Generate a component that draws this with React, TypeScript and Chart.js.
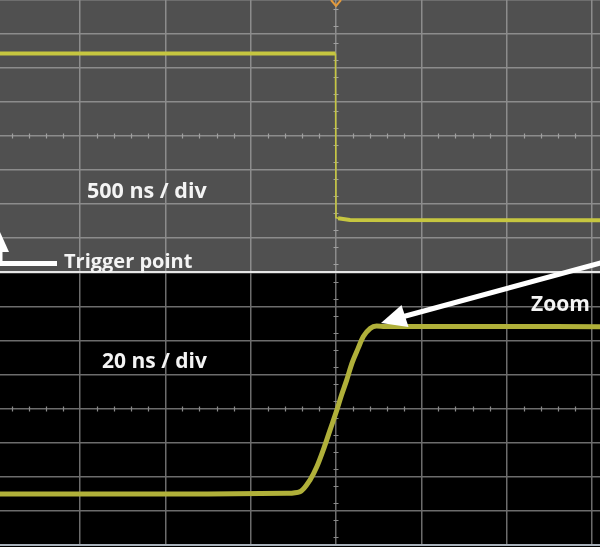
import React, { useEffect, useRef } from 'react';
import { Chart, registerables } from 'chart.js';

Chart.register(...registerables);

// ---------- data ----------
// Top trace: 500 ns / div, values in vertical divisions
const topTimeNs = [-1969, -3, 0, 12, 82, 1547];
const topLevelDiv = [2.43, 2.43, -2.4, -2.42, -2.47, -2.48];

// Zoomed trace: 20 ns / div
const zoomTimeNs = [-78.75, -30, -11.5, -8.4, -6.1, -4.5, -3.0, -1.4, 0.2, 1.3, 2.5, 3.75, 5.2, 6.4, 8.0, 9.5, 11.5, 30, 61.9];
const zoomLevelDiv = [-2.5, -2.5, -2.48, -2.43, -2.09, -1.7, -1.21, -0.62, -0.03, 0.41, 0.85, 1.35, 1.79, 2.13, 2.37, 2.44, 2.43, 2.43, 2.42];

const topRangeNs = [-1968.75, 1546.875];
const topTicksNs = [-1500, -1000, -500, 0, 500, 1000, 1500];
const topStepNs = 500;
const zoomRangeNs = [-78.75, 61.875];
const zoomTicksNs = [-60, -40, -20, 0, 20, 40, 60];
const zoomStepNs = 20;
const yRangeDiv = [-4, 4];
const yTicksDiv = [-4, -3, -2, -1, 0, 1, 2, 3, 4];

const topLabel = '500 ns / div';
const zoomLabel = '20 ns / div';
const triggerLabel = 'Trigger point';
const zoomArrowLabel = 'Zoom';

const FONT = '"Open Sans", "DejaVu Sans", sans-serif';

const scopeDecor = {
  id: 'scopeDecor',
  beforeDraw(chart: any, _a: any, opts: any) {
    const { ctx, width, height } = chart;
    ctx.save();
    ctx.fillStyle = opts.bg;
    ctx.fillRect(0, 0, width, height);
    ctx.restore();
  },
  beforeDatasetsDraw(chart: any, _a: any, opts: any) {
    const { ctx } = chart;
    const xs = chart.scales.x;
    const ys = chart.scales.y;
    const step = opts.step;
    const cx = Math.round(xs.getPixelForValue(0));
    const cy = Math.round(ys.getPixelForValue(0));
    ctx.save();
    ctx.strokeStyle = opts.tickColor;
    ctx.lineWidth = 1.2;
    ctx.beginPath();
    // minor ticks along the horizontal centre line
    const sub = step / 5;
    for (let v = Math.ceil(xs.min / sub) * sub; v <= xs.max; v += sub) {
      if (Math.abs(v / step - Math.round(v / step)) < 1e-6) continue;
      const px = Math.round(xs.getPixelForValue(v)) + 0.5;
      ctx.moveTo(px, cy - 2.5);
      ctx.lineTo(px, cy + 2.5);
    }
    // minor ticks along the vertical centre line
    for (let v = ys.min + 0.25; v < ys.max; v += 0.5) {
      const py = Math.round(ys.getPixelForValue(v)) + 0.5;
      ctx.moveTo(cx - 2.5, py);
      ctx.lineTo(cx + 2.5, py);
    }
    ctx.stroke();
    ctx.restore();
  },
  afterDraw(chart: any, _a: any, opts: any) {
    if (!opts.trigger) return;
    const { ctx, chartArea } = chart;
    const cx = chart.scales.x.getPixelForValue(0);
    ctx.save();
    ctx.strokeStyle = '#e39a3c';
    ctx.lineWidth = 2;
    ctx.beginPath();
    ctx.moveTo(cx - 5, chartArea.top);
    ctx.lineTo(cx, chartArea.top + 6);
    ctx.lineTo(cx + 5, chartArea.top);
    ctx.stroke();
    ctx.restore();
  },
};

function makeConfig(p: {
  times: number[];
  levels: number[];
  range: number[];
  xTicks: number[];
  step: number;
  bg: string;
  grid: string;
  tick: string;
  line: string;
  lineWidth: number;
  padBottom: number;
  trigger: boolean;
  smooth: boolean;
}): any {
  return {
    type: 'line',
    data: {
      datasets: [
        {
          data: p.times.map((t, i) => ({ x: t, y: p.levels[i] })),
          borderColor: p.line,
          borderWidth: p.lineWidth,
          pointRadius: 0,
          tension: 0,
          cubicInterpolationMode: p.smooth ? 'monotone' : 'default',
          segment: {
            borderWidth: (c: any) =>
              Math.abs(c.p1.x - c.p0.x) < 3 ? 1.6 : p.lineWidth,
          },
        },
      ],
    },
    plugins: [scopeDecor],
    options: {
      animation: false,
      responsive: false,
      maintainAspectRatio: false,
      layout: { padding: { left: 0, right: 0, top: 0, bottom: p.padBottom } },
      plugins: {
        legend: { display: false },
        tooltip: { enabled: false },
        scopeDecor: { bg: p.bg, step: p.step, tickColor: p.tick, trigger: p.trigger },
      },
      scales: {
        x: {
          type: 'linear',
          min: p.range[0],
          max: p.range[1],
          afterBuildTicks: (s: any) => {
            s.ticks = p.xTicks.map((v) => ({ value: v }));
          },
          ticks: { display: false },
          grid: { color: p.grid, lineWidth: 1.5, drawTicks: false },
          border: { display: false },
        },
        y: {
          type: 'linear',
          min: yRangeDiv[0],
          max: yRangeDiv[1],
          afterBuildTicks: (s: any) => {
            s.ticks = yTicksDiv.map((v) => ({ value: v }));
          },
          ticks: { display: false },
          grid: { color: p.grid, lineWidth: 1.5, drawTicks: false },
          border: { display: false },
        },
      },
    },
  };
}

export default function App() {
  const topRef = useRef<HTMLCanvasElement>(null);
  const botRef = useRef<HTMLCanvasElement>(null);

  useEffect(() => {
    const top = new Chart(
      topRef.current as HTMLCanvasElement,
      makeConfig({
        times: topTimeNs,
        levels: topLevelDiv,
        range: topRangeNs,
        xTicks: topTicksNs,
        step: topStepNs,
        bg: '#505050',
        grid: '#8c8c8c',
        tick: '#a0a0a0',
        line: '#c6c640',
        lineWidth: 4,
        padBottom: 0,
        trigger: true,
        smooth: false,
      })
    );
    const bot = new Chart(
      botRef.current as HTMLCanvasElement,
      makeConfig({
        times: zoomTimeNs,
        levels: zoomLevelDiv,
        range: zoomRangeNs,
        xTicks: zoomTicksNs,
        step: zoomStepNs,
        bg: '#000000',
        grid: '#6c6c6c',
        tick: '#8a8a8a',
        line: '#b0b03a',
        lineWidth: 5,
        padBottom: 2,
        trigger: false,
        smooth: true,
      })
    );
    return () => {
      top.destroy();
      bot.destroy();
    };
  }, []);

  const textStyle: any = {
    fontFamily: FONT,
    fontWeight: 700,
    fill: '#f4f4f4',
  };

  return (
    <div
      style={{
        position: 'fixed',
        left: 0,
        top: 0,
        width: 600,
        height: 547,
        background: '#000',
        overflow: 'hidden',
      }}
    >
      <canvas
        ref={topRef}
        width={600}
        height={272}
        style={{ position: 'absolute', left: 0, top: 0, width: 600, height: 272 }}
      />
      <canvas
        ref={botRef}
        width={600}
        height={274}
        style={{ position: 'absolute', left: 0, top: 273, width: 600, height: 274 }}
      />
      <svg
        width={600}
        height={547}
        style={{ position: 'absolute', left: 0, top: 0, pointerEvents: 'none' }}
      >
        {/* panel separator */}
        <rect x={0} y={271} width={600} height={2} fill="#e6e6e6" />
        {/* bottom frame line */}
        <rect x={0} y={544} width={600} height={2} fill="#a9b2bb" />
        {/* trigger arrow */}
        <polyline
          points="57,263.5 0,263.5 0,250"
          fill="none"
          stroke="#ffffff"
          strokeWidth={5}
        />
        <polygon points="-9,252 9,252 0,232" fill="#ffffff" />
        {/* zoom arrow */}
        <line x1={606} y1={261.5} x2={400} y2={317.5} stroke="#ffffff" strokeWidth={5} />
        <polygon points="381,323 401.5,305 408.5,327" fill="#ffffff" />
        <text x={87} y={198} fontSize={21.5} style={textStyle}>
          {topLabel}
        </text>
        <text x={64} y={268} fontSize={20} style={textStyle}>
          {triggerLabel}
        </text>
        <text x={102} y={368} fontSize={21} style={textStyle}>
          {zoomLabel}
        </text>
        <text x={531} y={311} fontSize={21} style={textStyle}>
          {zoomArrowLabel}
        </text>
      </svg>
    </div>
  );
}
